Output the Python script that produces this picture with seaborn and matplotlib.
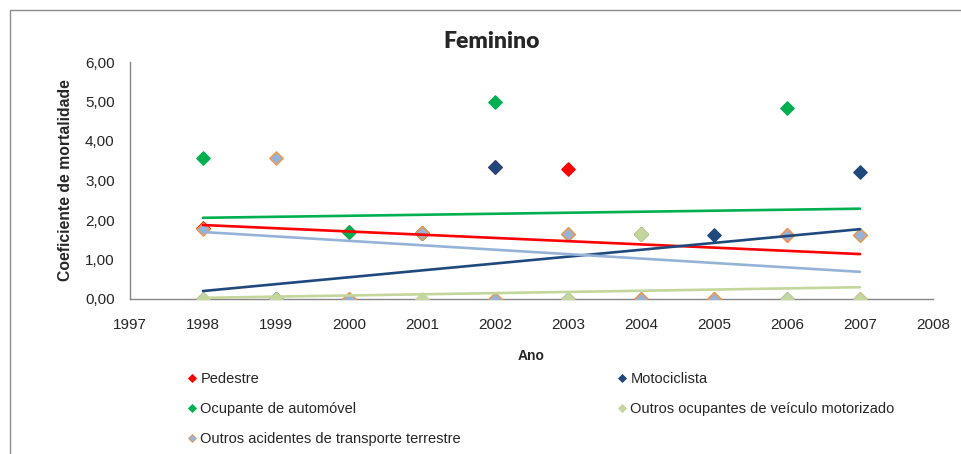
import numpy as np
import pandas as pd
import seaborn as sns
import matplotlib.pyplot as plt
from matplotlib.lines import Line2D
from matplotlib.patches import Rectangle
from matplotlib.ticker import FuncFormatter

# data (coeficiente de mortalidade, feminino)
anos = [1998, 1999, 2000, 2001, 2002, 2003, 2004, 2005, 2006, 2007]
pedestre = [1.79, 0.00, 1.70, 1.68, 3.33, 3.30, 1.64, 0.00, 1.61, 0.00]
motociclista = [0.00, 0.00, 0.00, 1.68, 3.33, 0.00, 0.00, 1.62, 0.00, 3.22]
automovel = [3.58, 0.00, 1.70, 1.68, 5.00, 1.65, 1.65, 0.00, 4.83, 1.62]
outros_ocupantes = [0.00, 0.00, 0.00, 0.00, 0.00, 0.00, 1.64, 0.00, 0.00, 0.00]
outros_acidentes = [1.78, 3.57, 0.00, 1.68, 0.00, 1.65, 0.00, 0.00, 1.62, 1.62]

nomes = ['Pedestre', 'Motociclista', 'Ocupante de automóvel',
         'Outros ocupantes de veículo motorizado',
         'Outros acidentes de transporte terrestre']
series = [pedestre, motociclista, automovel, outros_ocupantes, outros_acidentes]
# (marker fill, marker edge, trend line)
cores = [('#FF0000', '#FF0000', '#FF0000'),
         ('#1F497D', '#1F497D', '#1F497D'),
         ('#00B050', '#00B050', '#00B050'),
         ('#C3D69B', '#C3D69B', '#C3D69B'),
         ('#95B3D7', '#F79646', '#95B3D7')]

sns.set_style('white')
plt.rcParams['font.family'] = ['Liberation Sans', 'DejaVu Sans']

fig = plt.figure(figsize=(9.62, 4.54), dpi=100)
ax = fig.add_axes([130 / 962, 1 - 299 / 454, 803 / 962, 237 / 454])

for nome, valores, (fc, ec, lc) in zip(nomes, series, cores):
    df = pd.DataFrame({'ano': anos, 'valor': valores})
    sns.regplot(data=df, x='ano', y='valor', ax=ax, ci=None, marker='D',
                scatter_kws={'s': 46, 'facecolors': fc, 'edgecolors': ec,
                             'linewidths': 1.0, 'alpha': 1, 'zorder': 3},
                line_kws={'color': lc, 'lw': 1.9, 'zorder': 4})

ax.set_xlim(1997, 2008)
ax.set_ylim(0, 6)
ax.set_xticks(range(1997, 2009))
ax.set_yticks(np.arange(0, 6.01, 1))
ax.yaxis.set_major_formatter(FuncFormatter(lambda v, p: f'{v:.2f}'.replace('.', ',')))
for s in ['top', 'right']:
    ax.spines[s].set_visible(False)
for s in ['left', 'bottom']:
    ax.spines[s].set_color('#868686')
    ax.spines[s].set_linewidth(1.0)
ax.spines['bottom'].set_zorder(1)
ax.tick_params(axis='y', direction='out', length=5, color='#868686', labelsize=11, pad=6)
ax.tick_params(axis='x', direction='in', length=5, color='#868686', labelsize=11, pad=14)
ax.set_xlabel('Ano', fontsize=10, fontweight='bold', labelpad=12)
ax.set_ylabel('Coeficiente de mortalidade', fontsize=11.3, fontweight='bold', labelpad=9)
fig.text(492 / 962, 1 - 42 / 454, 'Feminino', fontsize=16.5, fontweight='heavy',
         family=['Lato', 'DejaVu Sans'], ha='center', va='center')

# legend, ordered so the two columns read like the original rows
ordem = [0, 2, 4, 1, 3]
handles = [Line2D([], [], ls='none', marker='D', markersize=4.5,
                  markerfacecolor=cores[i][0], markeredgecolor=cores[i][1],
                  markeredgewidth=0.6) for i in ordem]
fig.legend(handles, [nomes[i] for i in ordem], ncol=2, frameon=False,
           loc='upper left', bbox_to_anchor=(183 / 962, 1 - 366 / 454),
           fontsize=10.5, handlelength=0.5, handletextpad=0.3,
           labelspacing=1.12, columnspacing=10.8, borderaxespad=0)

# outer chart frame (cut by the image edges like the original)
fig.patches.append(Rectangle((10 / 962, -0.2), 2.0, 1.2 - 10 / 454,
                             transform=fig.transFigure, fill=False,
                             edgecolor='#8C8C8C', lw=1.0))

fig.savefig('out.png', dpi=100)
